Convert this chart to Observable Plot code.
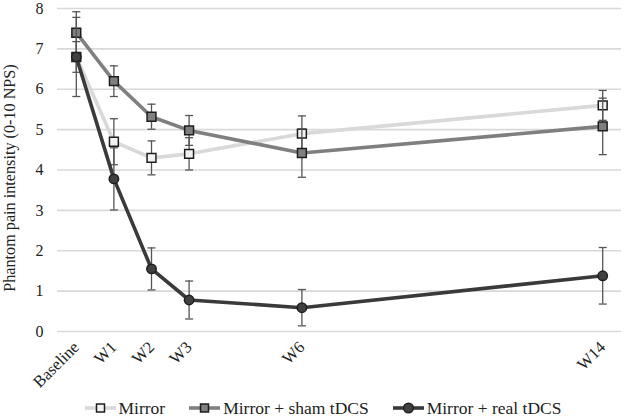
<!DOCTYPE html>
<html>
<head>
<meta charset="utf-8">
<script src="https://cdn.jsdelivr.net/npm/d3@7"></script>
<script src="https://cdn.jsdelivr.net/npm/@observablehq/plot@0.6"></script>
<style>
  html, body { margin: 0; padding: 0; background: #fff; }
  #chart { width: 624px; }
  .legend { display: flex; justify-content: center; align-items: center; gap: 24px;
    font-family: "Liberation Serif", "Times New Roman", serif; font-size: 17.5px; color: #222;
    height: 24px; margin-top: 4px; padding-left: 22px; width: 602px; }
  .legend .item { display: flex; align-items: center; gap: 3px; }
  .legend svg { display: block; }
</style>
</head>
<body>
<div id="chart"></div>
<script>
const weeks = [0, 1, 2, 3, 6, 14];
const weekLabels = ["Baseline", "W1", "W2", "W3", "W6", "W14"];
const yTicks = [0, 1, 2, 3, 4, 5, 6, 7, 8];
const yLabel = "Phantom pain intensity (0-10 NPS)";

const seriesNames = ["Mirror", "Mirror + sham tDCS", "Mirror + real tDCS"];
const mirrorValues = [6.8, 4.7, 4.3, 4.4, 4.9, 5.6];
const mirrorErrors = [0.38, 0.57, 0.42, 0.4, 0.44, 0.37];
const shamValues = [7.4, 6.2, 5.32, 4.98, 4.42, 5.08];
const shamErrors = [0.52, 0.38, 0.31, 0.37, 0.6, 0.7];
const realValues = [6.8, 3.78, 1.55, 0.78, 0.59, 1.38];
const realErrors = [0.98, 0.77, 0.52, 0.47, 0.45, 0.7];

const styles = [
  {line: "#d9d9d9", fill: "#f2f2f2", symbol: "square"},
  {line: "#7f7f7f", fill: "#7f7f7f", symbol: "square"},
  {line: "#3a3a3a", fill: "#404040", symbol: "circle"}
];

const allValues = [mirrorValues, shamValues, realValues];
const allErrors = [mirrorErrors, shamErrors, realErrors];

const capSymbol = {
  draw(context, size) {
    const r = Math.sqrt(size / Math.PI);
    context.moveTo(-r, 0);
    context.lineTo(r, 0);
  }
};

const marks = [
  Plot.gridY({ticks: yTicks, stroke: "#d9d9d9", strokeOpacity: 1, strokeWidth: 1.6}),
  Plot.axisY({ticks: yTicks, tickSize: 0, tickPadding: 14, label: null, fontSize: 16}),
  Plot.text([yLabel], {frameAnchor: "left", textAnchor: "middle", rotate: -90, dx: -48, dy: 8, fontSize: 16.2, fill: "#222"}),
  Plot.axisX({ticks: weeks, tickFormat: d => weekLabels[weeks.indexOf(d)], tickRotate: -45,
    tickSize: 0, tickPadding: 13, label: null, fontSize: 16.5})
];

seriesNames.forEach((name, i) => {
  const rows = weeks.map((w, j) => ({series: name, week: w, value: allValues[i][j], err: allErrors[i][j]}));
  const st = styles[i];
  marks.push(
    Plot.line(rows, {x: "week", y: "value", stroke: st.line, strokeWidth: 3.6}),
    Plot.ruleX(rows, {x: "week", y1: d => d.value - d.err, y2: d => d.value + d.err, stroke: "#555", strokeWidth: 1.3}),
    Plot.dot(rows, {x: "week", y: d => d.value - d.err, symbol: capSymbol, r: 4, stroke: "#555", strokeWidth: 1.3}),
    Plot.dot(rows, {x: "week", y: d => d.value + d.err, symbol: capSymbol, r: 4, stroke: "#555", strokeWidth: 1.3}),
    Plot.dot(rows, {x: "week", y: "value", symbol: st.symbol, r: st.symbol === "square" ? 5 : 4.7,
      fill: st.fill, stroke: "#1e1e1e", strokeWidth: 1.5})
  );
});

const chart = Plot.plot({
  width: 624,
  height: 392,
  marginTop: 8,
  marginBottom: 61,
  marginLeft: 57,
  marginRight: 3,
  style: {fontFamily: "'Liberation Serif', 'Times New Roman', serif", fontSize: "16px", color: "#222", background: "#fff"},
  x: {type: "linear", domain: [-0.5, 14.5]},
  y: {domain: [0, 8]},
  marks
});
document.getElementById("chart").appendChild(chart);

// Legend
const legend = document.createElement("div");
legend.className = "legend";
seriesNames.forEach((name, i) => {
  const st = styles[i];
  const item = document.createElement("div");
  item.className = "item";
  const svg = d3.create("svg").attr("width", 31).attr("height", 14);
  svg.append("line").attr("x1", 0).attr("x2", 31).attr("y1", 7).attr("y2", 7)
    .attr("stroke", st.line).attr("stroke-width", 3.6);
  if (st.symbol === "square") {
    svg.append("rect").attr("x", 11.5).attr("y", 3).attr("width", 8).attr("height", 8)
      .attr("fill", st.fill).attr("stroke", "#1e1e1e").attr("stroke-width", 1.5);
  } else {
    svg.append("circle").attr("cx", 15.5).attr("cy", 7).attr("r", 4.8)
      .attr("fill", st.fill).attr("stroke", "#1e1e1e").attr("stroke-width", 1.5);
  }
  item.appendChild(svg.node());
  const label = document.createElement("span");
  label.textContent = name;
  item.appendChild(label);
  legend.appendChild(item);
});
document.body.appendChild(legend);
</script>
</body>
</html>
